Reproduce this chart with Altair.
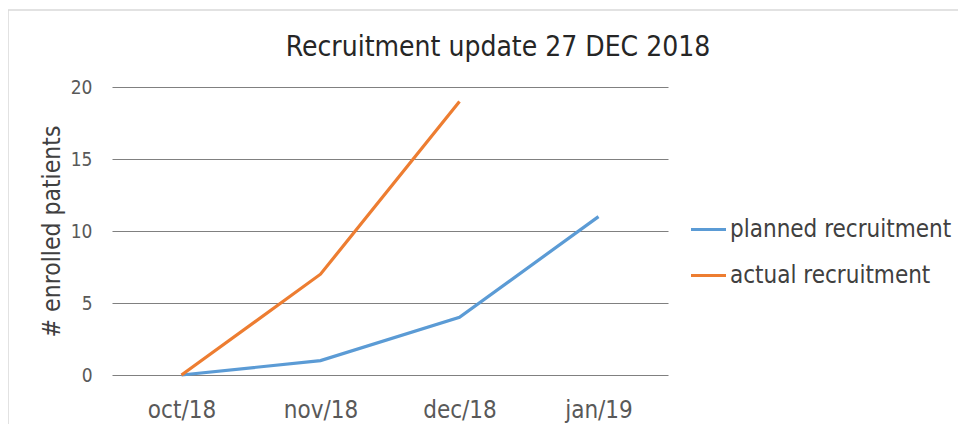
import altair as alt
import pandas as pd

months = ["oct/18", "nov/18", "dec/18", "jan/19"]
planned = [0, 1, 4, 11]
actual = [0, 7, 19, None]
series_names = ["planned recruitment", "actual recruitment"]
colors = ["#5B9BD5", "#ED7D31"]
title_text = "Recruitment update 27 DEC 2018"

rows = []
for name, vals in zip(series_names, [planned, actual]):
    for i, (m, v) in enumerate(zip(months, vals)):
        if v is not None:
            rows.append({"month": m, "value": v, "series": name, "order": i})
df = pd.DataFrame(rows)

FONT = "DejaVu Sans Condensed, DejaVu Sans, sans-serif"

one = pd.DataFrame({"t": [title_text]})

frame = alt.Chart(one).mark_rect(
    fill=None, stroke="#d9d9d9", strokeWidth=1.5
).encode(
    x=alt.value(-104), y=alt.value(-77), x2=alt.value(1200), y2=alt.value(1200)
)

title = alt.Chart(one).mark_text(
    font=FONT, fontSize=28, color="#262626", align="center", baseline="alphabetic"
).encode(x=alt.value(386), y=alt.value(-31), text="t:N")

lines = alt.Chart(df).mark_line(strokeWidth=3.2).encode(
    x=alt.X("month:N", sort=months, scale=alt.Scale(domain=months, paddingInner=0, paddingOuter=0),
            axis=alt.Axis(title=None, labelAngle=0, ticks=False, domain=False, grid=False,
                          labelPadding=23, labelFontSize=24, labelColor="#595959",
                          labelFont=FONT)),
    y=alt.Y("value:Q", scale=alt.Scale(domain=[0, 20]),
            axis=alt.Axis(title="# enrolled patients", values=[0, 5, 10, 15, 20],
                          ticks=False, domain=False, grid=True, gridColor="#808080",
                          gridWidth=1.2, labelPadding=20, labelFontSize=19,
                          labelColor="#595959", labelFont=FONT,
                          titleFont=FONT, titleFontSize=24.5, titleFontWeight="normal",
                          titleColor="#404040", titlePadding=6)),
    color=alt.Color("series:N", scale=alt.Scale(domain=series_names, range=colors),
                    legend=alt.Legend(title=None, orient="none", legendX=577, legendY=123,
                                      symbolType="stroke", symbolSize=1225,
                                      symbolStrokeWidth=3.2, labelFontSize=24,
                                      labelFont=FONT, labelColor="#404040",
                                      labelLimit=400, rowPadding=14, labelOffset=2)),
    order="order:Q",
    detail="series:N",
)

chart = alt.layer(frame, lines, title).properties(
    width=556,
    height=288,
    autosize=alt.AutoSizeParams(type="none"),
    padding={"left": 104, "top": 79, "right": 290, "bottom": 49},
).configure_view(stroke=None)

chart.save("out.html", embed_options={"renderer": "svg", "actions": False})
